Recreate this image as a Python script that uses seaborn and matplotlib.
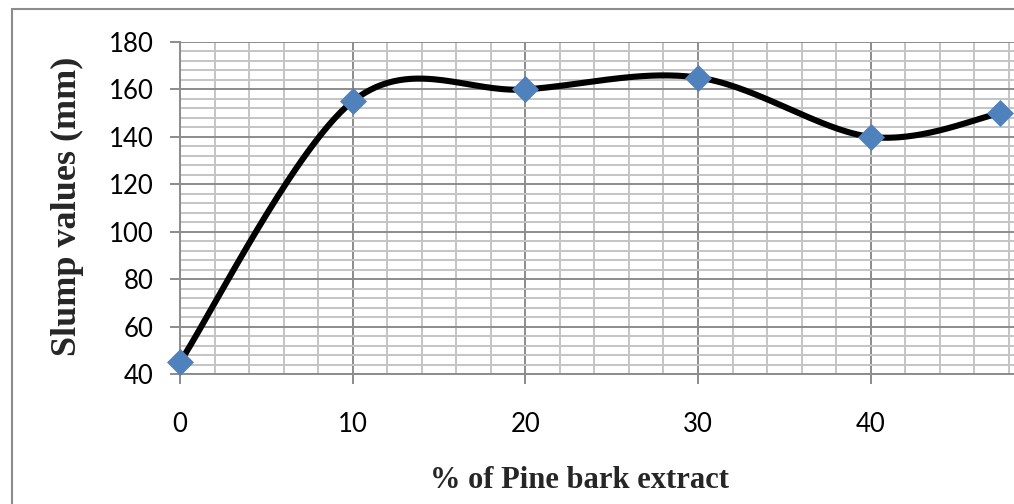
import numpy as np
import pandas as pd
import matplotlib
matplotlib.use("Agg")
import matplotlib.pyplot as plt
import seaborn as sns
from matplotlib.ticker import MultipleLocator
from matplotlib.patches import Rectangle

# ---- data ----
pine_bark_pct = [0, 10, 20, 30, 40, 47.5]
slump_mm = [45, 155, 160, 165, 140, 150]
x_ticks = [0, 10, 20, 30, 40]
y_ticks = [40, 60, 80, 100, 120, 140, 160, 180]
x_label = "% of Pine bark extract"
y_label = "Slump values (mm)"

df = pd.DataFrame({"pct": pine_bark_pct, "slump": slump_mm})


def excel_smooth(xs, ys, n=60):
    """Excel-style smoothed line (Bezier with Catmull-Rom control points)."""
    P = np.column_stack([xs, ys]).astype(float)
    out = []
    for i in range(len(P) - 1):
        p0 = P[i - 1] if i > 0 else P[i]
        p1, p2 = P[i], P[i + 1]
        p3 = P[i + 2] if i + 2 < len(P) else P[i + 1]
        c1 = p1 + (p2 - p0) / 6.0
        c2 = p2 - (p3 - p1) / 6.0
        t = np.linspace(0, 1, n)[:, None]
        seg = ((1 - t) ** 3) * p1 + 3 * ((1 - t) ** 2) * t * c1 + 3 * (1 - t) * t ** 2 * c2 + t ** 3 * p2
        out.append(seg if i == 0 else seg[1:])
    return np.vstack(out)


sns.set_theme(style="white")
plt.rcParams["font.family"] = ["Lato", "DejaVu Sans"]

fig = plt.figure(figsize=(10.14, 5.04), dpi=100)
ax = fig.add_axes([180 / 1014, 1 - 374 / 504, 1 - 180 / 1014, (374 - 42) / 504])

ax.set_xlim(0, 48.3)
ax.set_ylim(40, 180)
ax.xaxis.set_major_locator(MultipleLocator(10))
ax.xaxis.set_minor_locator(MultipleLocator(2))
ax.yaxis.set_major_locator(MultipleLocator(20))
ax.yaxis.set_minor_locator(MultipleLocator(4))
ax.set_xticks(x_ticks)
ax.set_yticks(y_ticks)

ax.grid(which="minor", color="#c4c4c4", linewidth=1.4, zorder=0)
ax.grid(which="major", color="#8c8c8c", linewidth=1.4, zorder=0)
ax.set_axisbelow(True)

curve = excel_smooth(df["pct"].values, df["slump"].values)
ax.plot(curve[:, 0], curve[:, 1], color="black", linewidth=4.4, zorder=3,
        solid_capstyle="round")
sns.scatterplot(data=df, x="pct", y="slump", ax=ax, marker="D", s=190,
                color="#4f81bd", edgecolor="#4f81bd", linewidth=0, zorder=4,
                clip_on=False)

for side in ["top", "right"]:
    ax.spines[side].set_visible(False)
for side in ["left", "bottom"]:
    ax.spines[side].set_color("#8c8c8c")
    ax.spines[side].set_linewidth(1.4)

ax.tick_params(axis="both", which="major", length=7, width=1.4, color="#8c8c8c",
               labelsize=18.5, labelcolor="black")
ax.tick_params(axis="x", which="major", pad=20, bottom=True)
ax.tick_params(axis="y", which="major", pad=12, left=True)
ax.tick_params(which="minor", length=0)

ax.set_xlabel("")
ax.set_ylabel("")
fig.text(580 / 1014, 1 - 480 / 504, x_label, ha="center", va="center",
         fontsize=22, fontweight="bold", family="Liberation Serif")
fig.text(67 / 1014, 1 - 206 / 504, y_label, ha="center", va="center", rotation=90,
         fontsize=26, fontweight="bold", family="Liberation Serif")

# outer chart border
fig.patches.append(Rectangle((12 / 1014, -0.1), 1.2, 1 - 9 / 504 + 0.1,
                             transform=fig.transFigure, fill=False,
                             edgecolor="#8c8c8c", linewidth=1.5))

fig.savefig("out.png", dpi=100)
